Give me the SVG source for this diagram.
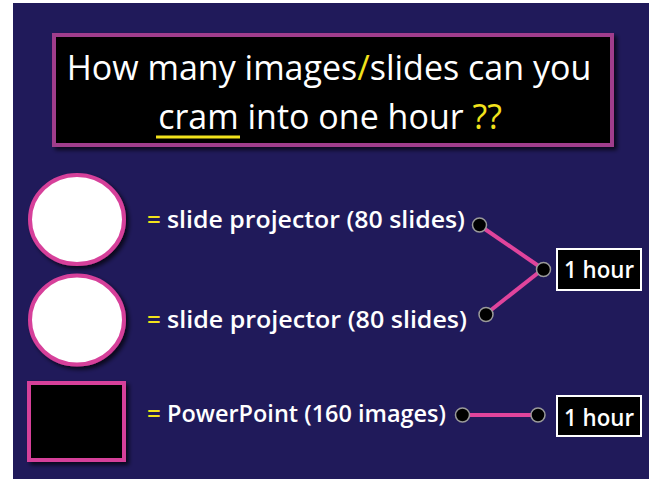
<svg xmlns="http://www.w3.org/2000/svg" width="649" height="479" viewBox="0 0 649 479">
  <defs>
    <filter id="shadow" x="-20%" y="-20%" width="150%" height="150%">
      <feDropShadow dx="3" dy="3" stdDeviation="2" flood-color="#000000" flood-opacity="0.7"/>
    </filter>
    <style>
      .title { font-family: "Open Sans", "Liberation Sans", sans-serif; font-size: 34px; fill: #ffffff; }
      .body { font-family: "Open Sans", "Liberation Sans", sans-serif; font-size: 24px; fill: #ffffff; font-weight: 600; }
      .yel { fill: #f2e21c; }
      .icon { stroke: #d6409a; stroke-width: 4; filter: url(#shadow); }
      .conn { stroke: #e0449c; stroke-width: 4; fill: none; }
      .dot { fill: #000000; stroke: #9a9a9a; stroke-width: 1.5; }
      .hourbox { fill: #000000; stroke: #ffffff; stroke-width: 2; }
      .hour { font-family: "Open Sans", "Liberation Sans", sans-serif; font-size: 24px; fill: #ffffff; font-weight: 600; }
    </style>
  </defs>
  <rect x="0" y="0" width="649" height="479" fill="#ffffff"/>
  <rect x="13" y="3" width="636" height="476" fill="#201a5a"/>

  <g id="title">
    <rect x="54" y="35" width="558" height="110" fill="#000000" stroke="#a03c8c" stroke-width="4" filter="url(#shadow)"/>
    <text class="title" x="329" y="80" text-anchor="middle">How many images<tspan class="yel">/</tspan>slides can you</text>
    <text class="title" x="330" y="129" text-anchor="middle">cram into one hour <tspan class="yel">??</tspan></text>
    <line x1="156" y1="137" x2="240" y2="137" stroke="#f2e21c" stroke-width="3"/>
  </g>

  <g id="projector1">
    <ellipse class="icon" cx="77" cy="219.5" rx="47" ry="44.5" fill="#ffffff"/>
    <text class="body yel" x="147" y="228">=</text>
    <text class="body" x="167" y="228" textLength="298" lengthAdjust="spacingAndGlyphs">slide projector (80 slides)</text>
  </g>

  <g id="projector2">
    <ellipse class="icon" cx="77" cy="320" rx="47" ry="44.5" fill="#ffffff"/>
    <text class="body yel" x="147" y="328">=</text>
    <text class="body" x="167" y="328" textLength="300" lengthAdjust="spacingAndGlyphs">slide projector (80 slides)</text>
  </g>

  <g id="powerpoint">
    <rect class="icon" x="29" y="383" width="95" height="77" fill="#000000"/>
    <text class="body yel" x="147" y="422">=</text>
    <text class="body" x="167" y="422" textLength="279" lengthAdjust="spacingAndGlyphs">PowerPoint (160 images)</text>
  </g>

  <g id="hour1">
    <rect class="hourbox" x="557" y="249" width="84" height="41"/>
    <text class="hour" x="564" y="278" textLength="70" lengthAdjust="spacingAndGlyphs">1 hour</text>
  </g>

  <g id="hour2">
    <rect class="hourbox" x="557" y="396" width="84" height="40"/>
    <text class="hour" x="564" y="426" textLength="70" lengthAdjust="spacingAndGlyphs">1 hour</text>
  </g>

  <g id="connectors">
    <line class="conn" x1="479" y1="225" x2="543" y2="269"/>
    <line class="conn" x1="486" y1="314" x2="543" y2="269"/>
    <line class="conn" x1="462" y1="415" x2="538" y2="415"/>
    <circle class="dot" cx="479.5" cy="225" r="7"/>
    <circle class="dot" cx="543.5" cy="269.5" r="7"/>
    <circle class="dot" cx="486" cy="314.5" r="7"/>
    <circle class="dot" cx="462.5" cy="415" r="7"/>
    <circle class="dot" cx="538" cy="415" r="7"/>
  </g>
</svg>
